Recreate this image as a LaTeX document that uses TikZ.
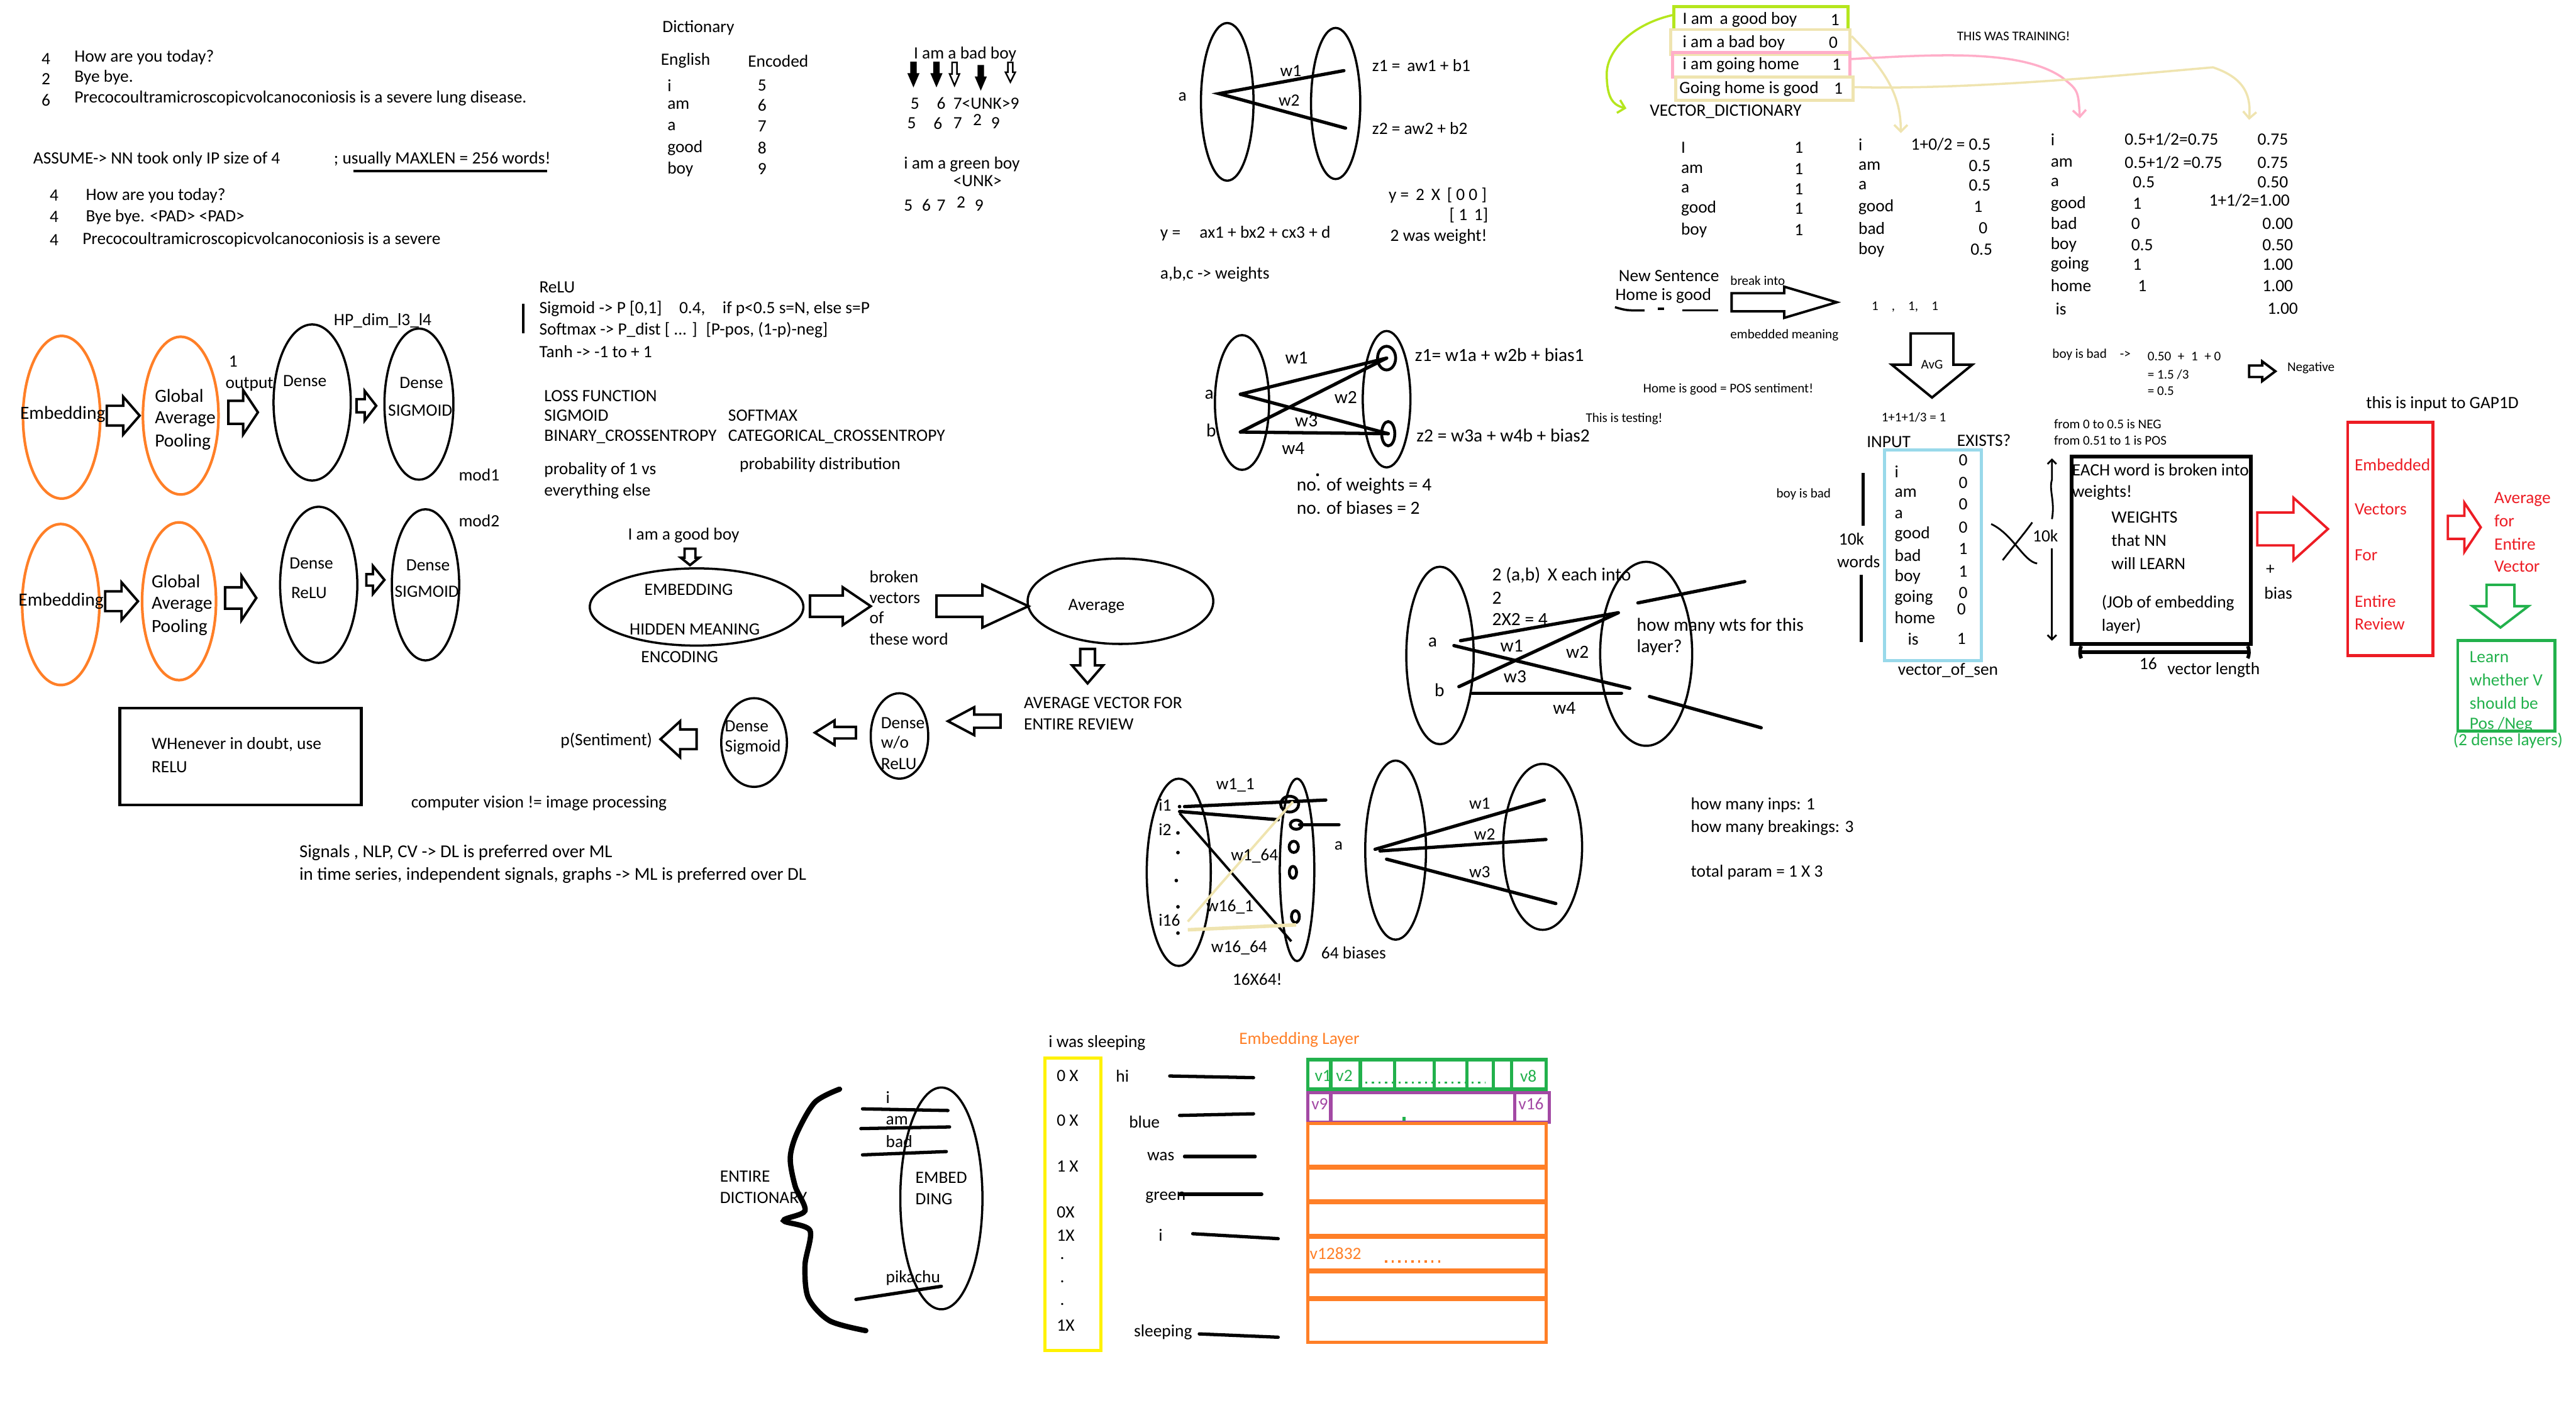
\documentclass[tikz,border=0pt]{standalone}
\usepackage{fontspec}
\setmainfont{Carlito}
\usepackage{tikz}
\usetikzlibrary{arrows.meta,calc}
\definecolor{paintorange}{RGB}{255,127,39}
\definecolor{paintred}{RGB}{237,28,36}
\definecolor{paintgreen}{RGB}{34,177,76}
\definecolor{paintblue}{RGB}{153,217,234}
\definecolor{paintyellow}{RGB}{255,242,0}
\definecolor{paintpink}{RGB}{255,174,201}
\definecolor{paintbeige}{RGB}{239,228,176}
\definecolor{paintlime}{RGB}{181,230,29}
\definecolor{paintpurple}{RGB}{163,73,164}
\newcommand{\blockR}[7][]{\draw[line width=1.1pt,#1] (#2,#5-#6)--(#3,#5-#6)--(#3,#5-#7)--(#4,#5)--(#3,#5+#7)--(#3,#5+#6)--(#2,#5+#6)--cycle;}
\newcommand{\blockD}[7][]{\draw[line width=1.1pt,#1] (#2-#6,#3)--(#2+#6,#3)--(#2+#6,#4)--(#2+#7,#4)--(#2,#5)--(#2-#7,#4)--(#2-#6,#4)--cycle;}

\begin{document}
\begin{tikzpicture}[x=0.02612cm,y=-0.02612cm,
  txt/.style={font=\fontsize{7.8}{9}\selectfont,inner sep=0pt,anchor=west},
  stxt/.style={txt,font=\fontsize{6}{7}\selectfont},
  btxt/.style={txt,font=\fontsize{8.4}{10}\selectfont},
  ell/.style={line width=1pt},
  wline/.style={line width=1.5pt,line cap=round},
  barb/.style={-{Straight Barb[length=3pt,width=6pt]}}]
\useasboundingbox (0,0) rectangle (1568,854);

\node[txt] (c1) at (25,36) {4};
\node[txt] (s1) at (45,35) {How are you today?};
\node[txt] (c2) at (25,48) {2};
\node[txt] (s2) at (45,47) {Bye bye.};
\node[txt] (c3) at (25,61) {6};
\node[txt] (s3) at (45,60) {Precocoultramicroscopicvolcanoconiosis is a severe lung disease.};
\node[txt] (assume) at (20,97) {ASSUME-> NN took only IP size of 4};
\node[txt] (maxlen) at (203,97) {; usually MAXLEN = 256 words!};
\draw[line width=1.2pt] (215,104) -- (333,104);
\node[txt] (c4) at (30,119) {4};
\node[txt] (p1) at (52,119) {How are you today?};
\node[txt] (c5) at (30,132) {4};
\node[txt] (p2) at (52,132) {Bye bye. <PAD> <PAD>};
\node[txt] (c6) at (30,146) {4};
\node[txt] (p3) at (50,146) {Precocoultramicroscopicvolcanoconiosis is a severe};

\node[txt] (dict) at (403,17) {Dictionary};
\node[txt] (eng) at (402,37) {English};
\node[txt] (enc) at (455,37) {Encoded};
\node[txt] (w1) at (406,52) {i};
\node[txt] (w2) at (406,64) {am};
\node[txt] (w3) at (406,77) {a};
\node[txt] (w4) at (406,90) {good};
\node[txt] (w5) at (406,103) {boy};
\node[txt] (e1) at (461,52) {5};
\node[txt] (e2) at (461,64) {6};
\node[txt] (e3) at (461,77) {7};
\node[txt] (e4) at (461,90) {8};
\node[txt] (e5) at (461,103) {9};

\node[txt] (badboy) at (556,33) {I am a bad boy};
\blockD[fill=black,line width=0.7pt]{556}{38}{45}{52}{1.5}{3}
\blockD[fill=black,line width=0.7pt]{570}{38}{45}{52}{1.5}{3}
\blockD[fill=white,line width=0.7pt]{581}{38}{45}{52}{1.5}{3}
\blockD[fill=black,line width=0.7pt]{597}{40}{47}{54}{1.5}{3}
\blockD[fill=white,line width=0.7pt]{615}{38}{44}{50}{1.5}{3}
\node[txt] (r1a) at (554,63) {5};
\node[txt] (r1b) at (570,63) {6};
\node[txt] (r1c) at (580,63) {7<UNK>9};
\node[txt] (r2a) at (552,75) {5};
\node[txt] (r2b) at (568,75) {6};
\node[txt] (r2c) at (580,75) {7};
\node[txt] (r2d) at (592,73) {2};
\node[txt] (r2e) at (603,75) {9};
\node[txt] (green) at (550,100) {i am a green boy};
\node[txt] (unk) at (580,110) {<UNK>};
\node[txt] (r3a) at (550,125) {5};
\node[txt] (r3b) at (561,125) {6};
\node[txt] (r3c) at (570,125) {7};
\node[txt] (r3d) at (582,123) {2};
\node[txt] (r3e) at (593,125) {9};

\draw[ell] (747,62) ellipse [x radius=16, y radius=48];
\draw[ell] (813,63) ellipse [x radius=15, y radius=46];
\coordinate (pa) at (742,57);
\draw[wline] (818,43) -- (pa) -- (819,78);
\node[txt] (na) at (717,59) {a};
\node[txt] (nw1) at (779,43) {w1};
\node[txt] (nw2) at (778,61) {w2};
\node[txt] (z1) at (835,40) {z1 =\, aw1 + b1};
\node[txt] (z2) at (835,78) {z2 = aw2 + b2};
\node[txt] (yeq) at (706,142) {y =\hspace{1.1em}ax1 + bx2 + cx3 + d};
\node[txt] (y2) at (845,119) {y =\, 2\, X\, [ 0 0 ]};
\node[txt] (y3) at (882,131) {[ 1\, 1]};
\node[txt] (wt) at (846,144) {2 was weight!};
\node[txt] (abc) at (706,167) {a,b,c -> weights};

\draw[paintlime,line width=1.4pt] (1019,4) rectangle (1125,18);
\draw[paintbeige,line width=1.4pt] (1017,18) rectangle (1126,33);
\draw[paintpink,line width=1.4pt] (1018,32) rectangle (1126,47);
\draw[paintbeige,line width=1.4pt] (1020,47) rectangle (1128,61);
\node[txt] (t1) at (1024,12) {I am\, a good boy};
\node[txt] (v1) at (1114,12) {1};
\node[txt] (t2) at (1024,26) {i am a bad boy};
\node[txt] (v2) at (1113,26) {0};
\node[txt] (t3) at (1024,39.5) {i am going home};
\node[txt] (v3) at (1115,39.5) {1};
\node[txt] (t4) at (1022,54) {Going home is good};
\node[txt] (v4) at (1116,54) {1};
\draw[paintlime,line width=1pt,barb] (1019,9) .. controls (995,14) and (978,30) .. (978,45) .. controls (978,60) and (982,64) .. (990,66);
\draw[paintbeige,line width=1pt,barb] (1127,22) .. controls (1150,45) and (1157,60) .. (1157,81);
\draw[paintpink,line width=1pt,barb] (1126,36) .. controls (1180,33) and (1230,30) .. (1255,47) .. controls (1265,55) .. (1266,72);
\draw[paintbeige,line width=1pt,barb] (1128,53) .. controls (1200,55) and (1300,45) .. (1347,41) .. controls (1368,48) and (1370,60) .. (1369,73);
\node[txt] (vd) at (1004,68) {VECTOR\_DICTIONARY};
\node[stxt] (train) at (1191,22) {THIS WAS TRAINING!};

\node[txt] (a1) at (1023,90) {I};
\node[txt] (a2) at (1023,103) {am};
\node[txt] (a3) at (1023,115) {a};
\node[txt] (a4) at (1023,127) {good};
\node[txt] (a5) at (1023,140) {boy};
\node[txt] (b1) at (1092,90) {1};
\node[txt] (b2) at (1092,103) {1};
\node[txt] (b3) at (1092,115) {1};
\node[txt] (b4) at (1092,127) {1};
\node[txt] (b5) at (1092,140) {1};

\node[txt] (f1) at (1131,88) {i};
\node[txt] (f2) at (1131,101) {am};
\node[txt] (f3) at (1131,113) {a};
\node[txt] (f4) at (1131,126) {good};
\node[txt] (f5) at (1131,139) {bad};
\node[txt] (f6) at (1131,152) {boy};
\node[txt,anchor=east] (g1) at (1212,88) {1+0/2 = 0.5};
\node[txt,anchor=east] (g2) at (1212,101) {0.5};
\node[txt,anchor=east] (g3) at (1212,113) {0.5};
\node[txt,anchor=east] (g4) at (1207,126) {1};
\node[txt,anchor=east] (g5) at (1210,139) {0};
\node[txt,anchor=east] (g6) at (1213,152) {0.5};

\node[txt] (h1) at (1248,85) {i};
\node[txt] (h2) at (1248,99) {am};
\node[txt] (h3) at (1248,111) {a};
\node[txt] (h4) at (1248,124) {good};
\node[txt] (h5) at (1248,136) {bad};
\node[txt] (h6) at (1248,149) {boy};
\node[txt] (h7) at (1248,161) {going};
\node[txt] (h8) at (1248,174) {home};
\node[txt] (h9) at (1251,188) {is};
\node[txt] (k1) at (1293,85) {0.5+1/2=0.75};
\node[txt] (k2) at (1293,99) {0.5+1/2 =0.75};
\node[txt] (k3) at (1298,111) {0.5};
\node[txt] (k4) at (1298,124) {1};
\node[txt] (k5) at (1297,136) {0};
\node[txt] (k6) at (1297,149) {0.5};
\node[txt] (k7) at (1298,161) {1};
\node[txt] (k8) at (1301,174) {1};
\node[txt,anchor=east] (m1) at (1393,85) {0.75};
\node[txt,anchor=east] (m2) at (1393,99) {0.75};
\node[txt,anchor=east] (m3) at (1393,111) {0.50};
\node[txt,anchor=east] (m4) at (1394,122) {1+1/2=1.00};
\node[txt,anchor=east] (m5) at (1396,136) {0.00};
\node[txt,anchor=east] (m6) at (1396,149) {0.50};
\node[txt,anchor=east] (m7) at (1396,161) {1.00};
\node[txt,anchor=east] (m8) at (1396,174) {1.00};
\node[txt,anchor=east] (m9) at (1399,188) {1.00};

\node[txt] (newsen) at (985,168) {New Sentence};
\node[txt] (home) at (983,180) {Home is good};
\draw[line width=1pt] (983,187) .. controls (990,189) .. (1001,189);
\draw[line width=1pt] (1009,188) -- (1013,188);
\draw[line width=1pt] (1024,189) -- (1046,189);
\node[stxt] (brk) at (1053,171) {break into};
\blockR{1054}{1086}{1118}{184}{5.5}{9.5}
\node[stxt] (embm) at (1053,204) {embedded meaning};
\node[stxt] (ones) at (1139,187) {1\quad,\quad 1,\quad 1};
\blockD{1176}{203}{222}{242}{13}{24.5}
\node[stxt,anchor=center] (avg) at (1176,222) {AvG};
\node[stxt] (pos) at (1000,237) {Home is good = POS sentiment!};
\node[stxt] (test) at (965,255) {This is testing!};
\node[stxt] (third) at (1145,254) {1+1+1/3 = 1};
\node[txt] (inp) at (1136,269) {INPUT};
\node[txt] (ex) at (1191,268) {EXISTS?};
\draw[paintblue,line width=1.4pt] (1147,274) rectangle (1206,402);
\node[txt] (q1) at (1153,287) {i};
\node[txt] (q2) at (1153,300) {am};
\node[txt] (q3) at (1153,313) {a};
\node[txt] (q4) at (1153,325) {good};
\node[txt] (q5) at (1153,338) {bad};
\node[txt] (q6) at (1153,351) {boy};
\node[txt] (q7) at (1153,364) {going};
\node[txt] (q8) at (1153,376) {home};
\node[txt] (q9) at (1161,389) {is};
\node[txt] (o1) at (1192,280) {0};
\node[txt] (o2) at (1192,294) {0};
\node[txt] (o3) at (1192,307) {0};
\node[txt] (o4) at (1192,321) {0};
\node[txt] (o5) at (1192,334) {1};
\node[txt] (o6) at (1192,348) {1};
\node[txt] (o7) at (1192,361) {0};
\node[txt] (o8) at (1191,371) {0};
\node[txt] (o9) at (1191,389) {1};
\node[txt] (vos) at (1155,408) {vector\_of\_sen};
\node[stxt] (bib) at (1081,301) {boy is bad};
\draw[line width=1.3pt] (1134,288) -- (1134,320);
\draw[line width=1.3pt] (1133,350) -- (1133,391);
\node[txt] (tenk) at (1119,328) {10k};
\node[txt] (words) at (1118,342) {words};
\draw[line width=0.8pt] (1212,319) .. controls (1225,325) and (1232,342) .. (1240,343);
\draw[line width=0.8pt] (1219,341) .. controls (1226,332) and (1232,325) .. (1237,318);
\node[txt] (tenk2) at (1237,326) {10k};
\draw[line width=0.8pt,-{Straight Barb[length=2pt,width=4pt]}] (1249,316) .. controls (1251,305) and (1247,298) .. (1249,292) -- (1249,279);
\draw[line width=0.8pt,-{Straight Barb[length=2pt,width=4pt]}] (1249,334) -- (1249,390);

\node[stxt] (bib2) at (1249,216) {boy is bad\quad ->};
\node[stxt] (sum1) at (1307,217) {0.50\; +\; 1\; + 0};
\node[stxt] (sum2) at (1307,228) {= 1.5 /3};
\node[stxt] (sum3) at (1307,238) {= 0.5};
\blockR{1369}{1377}{1385}{226}{3.5}{6}
\node[stxt] (neg) at (1392,224) {Negative};
\node[txt] (gap) at (1440,246) {this is input to GAP1D};
\node[stxt] (from1) at (1250,258) {from 0 to 0.5 is NEG};
\node[stxt] (from2) at (1250,268) {from 0.51 to 1 is POS};
\draw[line width=1.6pt] (1261,278) rectangle (1370,392);
\node[txt] (each) at (1261,286) {EACH word is broken into};
\node[txt] (wts) at (1261,300) {weights!};
\node[txt] (wl1) at (1285,315) {WEIGHTS};
\node[txt] (wl2) at (1285,329) {that NN};
\node[txt] (wl3) at (1285,343) {will LEARN};
\node[txt] (job1) at (1279,367) {(JOb of embedding};
\node[txt] (job2) at (1279,381) {layer)};
\draw[line width=1.6pt,{Parenthesis[length=2pt,width=8pt]}-{Parenthesis[length=2pt,width=8pt]}] (1265,397) -- (1370,397);
\node[txt] (sixteen) at (1302,404) {16};
\node[txt] (vlen) at (1319,408) {vector length};
\blockR[paintred]{1374}{1396}{1417}{322}{10}{19}
\node[txt] (plus) at (1379,347) {+};
\node[txt] (bias) at (1378,361) {bias};
\draw[paintred,line width=1.4pt] (1429,257) rectangle (1481,399);
\node[txt,text=paintred] (red1) at (1433,283) {Embedded};
\node[txt,text=paintred] (red2) at (1433,310) {Vectors};
\node[txt,text=paintred] (red3) at (1433,338) {For};
\node[txt,text=paintred] (red4) at (1433,366) {Entire};
\node[txt,text=paintred] (red5) at (1433,380) {Review};
\blockR[paintred]{1490}{1500}{1510}{321}{7}{15}
\node[txt,text=paintred] (av1) at (1518,304) {Average};
\node[txt,text=paintred] (av2) at (1518,317) {for};
\node[txt,text=paintred] (av3) at (1518,331) {Entire};
\node[txt,text=paintred] (av4) at (1518,345) {Vector};
\blockD[paintgreen]{1522}{356}{369}{382}{8.5}{17}
\draw[paintgreen,line width=1.4pt] (1496,390) rectangle (1555,445);
\node[txt,text=paintgreen] (gr1) at (1503,400) {Learn};
\node[txt,text=paintgreen] (gr2) at (1503,414) {whether V};
\node[txt,text=paintgreen] (gr3) at (1503,428) {should be};
\node[txt,text=paintgreen] (gr4) at (1503,441) {Pos /Neg};
\node[txt,text=paintgreen] (gr5) at (1493,451) {(2 dense layers)};

\draw[paintorange,line width=1.2pt] (37.5,254) ellipse [x radius=23.5, y radius=49.5];
\node[btxt] (emb1) at (12,252) {Embedding};
\blockR{65}{75}{85}{253}{6}{11.5}
\draw[paintorange,line width=1.2pt] (110,253) ellipse [x radius=23, y radius=48];
\node[btxt] (gl1) at (94,241) {Global};
\node[btxt] (ga1) at (94,255) {Average};
\node[btxt] (gp1) at (94,269) {Pooling};
\blockR{139}{148}{157}{251}{7}{13.5}
\node[txt] (one) at (139,220) {1};
\node[txt] (outp) at (137,234) {output};
\draw[ell] (190,245) ellipse [x radius=23.5, y radius=47.5];
\node[txt] (dn1) at (172,232) {Dense};
\node[txt] (hp) at (203,195) {HP\_dim\_l3\_l4};
\blockR{217}{222}{229}{247}{4}{9}
\draw[ell] (255,246) ellipse [x radius=21, y radius=46];
\node[txt] (dn2) at (243,233) {Dense};
\node[txt] (sg1) at (236,250) {SIGMOID};
\node[txt] (mod1) at (279,289) {mod1};
\node[txt] (mod2) at (279,317) {mod2};
\draw[paintorange,line width=1.2pt] (37,368) ellipse [x radius=23.5, y radius=49];
\node[btxt] (emb2) at (11,366) {Embedding};
\blockR{64}{74}{84}{366}{6}{11.5}
\draw[paintorange,line width=1.2pt] (109,366) ellipse [x radius=22.5, y radius=48];
\node[btxt] (gl2) at (92,354) {Global};
\node[btxt] (ga2) at (92,368) {Average};
\node[btxt] (gp2) at (92,382) {Pooling};
\blockR{137}{147}{156}{364}{6.5}{13.5}
\draw[ell] (194,356) ellipse [x radius=23.5, y radius=47.5];
\node[txt] (dn3) at (176,343) {Dense};
\node[txt] (rl1) at (177,361) {ReLU};
\blockR{223}{227}{234}{353}{3.5}{8.5}
\draw[ell] (259,356) ellipse [x radius=20.5, y radius=46];
\node[txt] (dn4) at (247,344) {Dense};
\node[txt] (sg2) at (240,360) {SIGMOID};

\node[txt] (relu) at (328,175) {ReLU};
\node[txt] (sigm) at (328,188) {Sigmoid -> P [0,1]\quad 0.4,\quad if p<0.5 s=N, else s=P};
\node[txt] (soft) at (328,201) {Softmax -> P\_dist [ ... ]\enspace [P-pos, (1-p)-neg]};
\node[txt] (tanh) at (328,214) {Tanh -> -1 to + 1};
\draw[line width=0.9pt] (318.5,185) -- (318.5,203);
\node[txt] (loss) at (331,241) {LOSS FUNCTION};
\node[txt] (sig2) at (331,253) {SIGMOID};
\node[txt] (bce) at (331,266) {BINARY\_CROSSENTROPY};
\node[txt] (smax) at (443,253) {SOFTMAX};
\node[txt] (cce) at (443,266) {CATEGORICAL\_CROSSENTROPY};
\node[txt] (prob1) at (331,286) {probality of 1 vs};
\node[txt] (prob2) at (331,299) {everything else};
\node[txt] (prob3) at (450,283) {probability distribution};

\node[txt] (goodboy) at (382,326) {I am a good boy};
\blockD{420}{334}{339.5}{344}{3.3}{5.6}
\draw[ell] (424,369.5) ellipse [x radius=65, y radius=23.5];
\node[txt] (embd) at (392,359) {EMBEDDING};
\node[txt] (hidden) at (383,383) {HIDDEN MEANING};
\node[txt] (encd) at (390,400) {ENCODING};
\blockR{493}{513}{530}{369}{6.5}{11.5}
\node[txt] (bk1) at (529,351) {broken};
\node[txt] (bk2) at (529,364) {vectors};
\node[txt] (bk3) at (529,376) {of};
\node[txt] (bk4) at (529,389) {these word};
\blockR{570}{598}{626}{369}{6.5}{13}
\draw[ell] (682,366) ellipse [x radius=56.5, y radius=26];
\node[txt] (avgn) at (650,369) {Average};
\blockD{662}{395}{405}{416}{4.5}{9.5}
\node[txt] (avv1) at (623,428) {AVERAGE VECTOR FOR};
\node[txt] (avv2) at (623,441) {ENTIRE REVIEW};
\blockR{609}{593}{577}{439}{4}{8.5}
\draw[ell] (547.5,448) ellipse [x radius=17.5, y radius=26];
\node[txt] (dw1) at (536,440) {Dense};
\node[txt] (dw2) at (536,452) {w/o};
\node[txt] (dw3) at (536,465) {ReLU};
\blockR{521}{508}{496}{446}{3.5}{7.5}
\draw[ell] (459,452) ellipse [x radius=20, y radius=27];
\node[txt] (ds1) at (441,442) {Dense};
\node[txt] (ds2) at (441,455) {Sigmoid};
\blockR{424}{414}{402}{450}{6}{11}
\node[txt] (psent) at (341,451) {p(Sentiment)};

\draw[line width=1.3pt] (73,431) rectangle (220,490);
\node[txt] (doubt1) at (92,453) {WHenever in doubt, use};
\node[txt] (doubt2) at (92,467) {RELU};
\node[txt] (cv) at (250,489) {computer vision != image processing};
\node[txt,font=\fontsize{8.2}{9.5}\selectfont] (sig) at (182,519) {Signals , NLP, CV -> DL is preferred over ML};
\node[txt,font=\fontsize{8.2}{9.5}\selectfont] (ts) at (182,533) {in time series, independent signals, graphs -> ML is preferred over DL};

\draw[ell] (756,245) ellipse [x radius=16.5, y radius=41];
\draw[ell] (844,243) ellipse [x radius=14.5, y radius=41.5];
\draw[line width=1.3pt] (844,218) ellipse [x radius=5.5, y radius=7.2];
\draw[line width=1.3pt] (845,264) ellipse [x radius=4, y radius=7.4];
\coordinate (qa) at (755,240);
\coordinate (qb) at (755,263);
\coordinate (qz1) at (844,218);
\coordinate (qz2) at (845,264);
\draw[wline] (qa) -- (qz1);
\draw[wline] (qb) -- (qz1);
\draw[wline] (qa) -- (qz2);
\draw[wline] (qb) -- (qz2);
\node[btxt] (la2) at (733,240) {a};
\node[btxt] (lb2) at (734,262) {b};
\node[btxt] (x1) at (782,218) {w1};
\node[btxt] (x2) at (812,242) {w2};
\node[btxt] (x3) at (788,256) {w3};
\node[btxt] (x4) at (780,273) {w4};
\node[btxt] (zz1) at (861,216) {z1= w1a + w2b + bias1};
\node[btxt] (zz2) at (862,265) {z2 = w3a + w4b + bias2};
\fill (802,289) circle (0.9);
\node[btxt] (nw) at (789,296) {no. of weights = 4};
\node[btxt] (nb) at (789,309) {no. of biases = 2};

\draw[ell] (876.5,399) ellipse [x radius=20.5, y radius=54];
\draw[ell] (1002,398) ellipse [x radius=28, y radius=56];
\node[btxt] (la3) at (869,391) {a};
\node[btxt] (lb3) at (873,420) {b};
\draw[wline] (889,390) -- (985,373);
\draw[wline] (885,393) -- (992,419);
\draw[wline] (888,418) -- (985,373);
\draw[wline] (896,422) -- (987,422);
\draw[wline] (997,367) -- (1062,354);
\draw[wline] (1004,424) -- (1072,443);
\node[btxt] (each2) at (908,350) {2 (a,b)\, X each into};
\node[btxt] (two) at (908,364) {2};
\node[btxt] (twox) at (908,377) {2X2 = 4};
\node[btxt] (y1) at (913,393) {w1};
\node[btxt] (y2b) at (953,397) {w2};
\node[btxt] (y3b) at (915,412) {w3};
\node[btxt] (y4) at (945,431) {w4};
\node[btxt] (hm1) at (996,381) {how many wts for this};
\node[btxt] (hm2) at (996,394) {layer?};

\draw[ell] (717.5,531) ellipse [x radius=19.5, y radius=57];
\draw[ell] (789.5,529.5) ellipse [x radius=10.5, y radius=55.5];
\fill (718,491) circle (1.1);
\fill (717,507) circle (1.1);
\fill (717,519) circle (1.1);
\fill (716,536) circle (1.1);
\fill (717,552) circle (1.1);
\fill (717,568) circle (1.1);
\node[txt] (i1) at (705,490) {i1};
\node[txt] (i2) at (705,505) {i2};
\node[txt] (i16) at (705,560) {i16};
\draw[line width=1.3pt] (785,489.5) ellipse [x radius=5.5, y radius=4.8];
\draw[line width=1.3pt] (789,502) ellipse [x radius=3.6, y radius=2.8];
\draw[line width=1.3pt] (787.5,515.5) ellipse [x radius=2.8, y radius=3.4];
\draw[line width=1.3pt] (787,531) ellipse [x radius=2.2, y radius=3.6];
\draw[line width=1.3pt] (788.5,558) ellipse [x radius=2.4, y radius=3.6];
\draw[wline] (721,491) -- (807,487);
\draw[wline] (718,494) -- (778,499);
\draw[wline] (791,502) -- (815,502);
\draw[line width=1.1pt] (718,495) -- (786,573);
\draw[paintbeige,line width=1.1pt] (723,561) -- (787,488);
\draw[paintbeige,line width=1.6pt] (723,566) -- (789,563);
\node[txt] (lw11) at (740,478) {w1\_1};
\node[txt] (lw164) at (749,521) {w1\_64};
\node[txt] (lw161) at (734,552) {w16\_1};
\node[txt] (lw1664) at (737,577) {w16\_64};
\node[txt] (bias64) at (804,580) {64 biases};
\node[txt] (sxf) at (750,596) {16X64!};

\draw[ell] (849.5,517.5) ellipse [x radius=18.5, y radius=54.5];
\draw[ell] (939,515.5) ellipse [x radius=24, y radius=50.5];
\node[txt] (la4) at (812,515) {a};
\draw[wline] (837,517) -- (940,487);
\draw[wline] (840,518) -- (941,511);
\draw[wline] (844,523) -- (947,550);
\node[txt] (u1) at (894,489) {w1};
\node[txt] (u2) at (897,508) {w2};
\node[txt] (u3) at (894,531) {w3};
\node[txt] (inps) at (1029,490) {how many inps: 1};
\node[txt] (brks) at (1029,504) {how many breakings: 3};
\node[txt] (tot) at (1029,531) {total param = 1 X 3};

\draw[line width=2.4pt,line cap=round] plot[smooth] coordinates {(511,663) (496,671) (485,690) (481,705) (484,722) (490,737) (477,743) (493,749) (490,770) (492,790) (505,804) (527,810)};
\node[txt] (ent1) at (438,716) {ENTIRE};
\node[txt] (ent2) at (438,729) {DICTIONARY};
\draw[ell] (573,729.5) ellipse [x radius=25, y radius=67.5];
\node[txt] (di) at (539,668) {i};
\node[txt] (dam) at (539,682) {am};
\node[txt] (dbad) at (539,695) {bad};
\node[txt] (dpik) at (539,778) {pikachu};
\draw[wline] (525,675) -- (577,676);
\draw[wline] (524,687) -- (578,686);
\draw[wline] (525,703) -- (576,701);
\draw[wline] (521,791) -- (573,783);
\node[txt] (emb3) at (557,717) {EMBED};
\node[txt] (ding) at (557,730) {DING};

\node[txt] (sleep) at (638,635) {i was sleeping};
\draw[paintyellow,line width=1.5pt] (636,644) rectangle (670,822);
\node[txt] (x01) at (643,655) {0 X};
\node[txt] (x02) at (643,682) {0 X};
\node[txt] (x03) at (643,710) {1 X};
\node[txt] (x04) at (643,738) {0X};
\node[txt] (x05) at (643,752) {1X};
\node[txt] (x06) at (645,766) {.};
\node[txt] (x07) at (645,780) {.};
\node[txt] (x08) at (645,794) {.};
\node[txt] (x09) at (643,807) {1X};
\node[txt] (hi) at (679,655) {hi};
\node[txt] (blue) at (687,683) {blue};
\node[txt] (was) at (698,704) {was};
\node[txt] (grn) at (697,729) {green};
\node[txt] (iw) at (705,752) {i};
\node[txt] (slp) at (690,811) {sleeping};
\draw[wline] (712,655) -- (763,656);
\draw[wline] (718,679) -- (763,678);
\draw[wline] (721,704) -- (764,704);
\draw[wline] (718,727) -- (768,727);
\draw[wline] (726,751) -- (778,754);
\draw[wline] (730,812) -- (778,814);

\node[txt,text=paintorange] (elayer) at (754,633) {Embedding Layer};
\draw[paintgreen,line width=1.5pt] (796,645) rectangle (941,663);
\foreach \xx in {810,828,849,873,893,909,920}
  \draw[paintgreen,line width=1.5pt] (\xx,645) -- (\xx,663);
\node[txt,text=paintgreen] (gv1) at (800,655) {v1};
\node[txt,text=paintgreen] (gv2) at (813,655) {v2};
\draw[paintgreen,line width=1pt,dotted] (831,659) -- (904,659);
\node[txt,text=paintgreen] (gv8) at (925,655) {v8};
\draw[paintpurple,line width=1.5pt] (796,665) rectangle (943,683);
\draw[paintpurple,line width=1.5pt] (810,665) -- (810,683);
\draw[paintpurple,line width=1.5pt] (922,665) -- (922,683);
\node[txt,text=paintpurple] (pv9) at (798,672) {v9};
\node[txt,text=paintpurple] (pv16) at (924,672) {v16};
\fill[paintgreen] (853.5,680) rectangle (855.5,682);
\draw[paintorange,line width=1.5pt] (796,684) rectangle (941,710);
\draw[paintorange,line width=1.5pt] (796,711) rectangle (941,731);
\draw[paintorange,line width=1.5pt] (796,732) rectangle (941,752);
\draw[paintorange,line width=1.5pt] (796,753) rectangle (941,773);
\draw[paintorange,line width=1.5pt] (796,774) rectangle (941,790);
\draw[paintorange,line width=1.5pt] (796,791) rectangle (941,817);
\node[txt,text=paintorange] (v12832) at (797,763) {v12832};
\draw[paintorange,line width=1pt,dotted] (843,768) -- (877,768);
\end{tikzpicture}
\end{document}
